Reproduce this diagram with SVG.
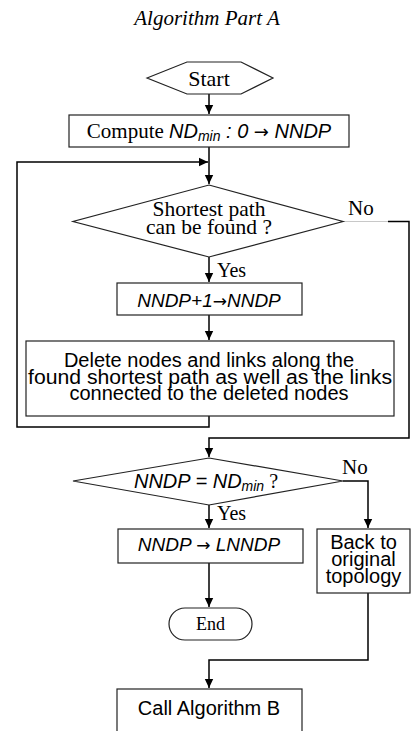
<svg xmlns="http://www.w3.org/2000/svg" width="411" height="731" viewBox="0 0 411 731">
<defs>
<marker id="ah" markerWidth="10" markerHeight="10" refX="9" refY="5" orient="auto" markerUnits="userSpaceOnUse">
<path d="M0,0.8 L9,5 L0,9.2 Z" fill="#000"/>
</marker>
<style>
.shape{fill:#fff;stroke:#222;stroke-width:1.2}
.conn{fill:none;stroke:#000;stroke-width:1.5}
.serif{font-family:"Liberation Serif","Times New Roman",serif;fill:#000}
.sans{font-family:"Liberation Sans",Arial,sans-serif;fill:#000}
.arr{font-family:"DejaVu Sans",sans-serif;font-style:normal}
.it{font-style:italic}
.mid{text-anchor:middle}
</style>
</defs>
<rect width="411" height="731" fill="#fff"/>
<text class="serif it mid" x="207" y="25" font-size="21">Algorithm Part A</text>

<g id="connectors">
<path class="conn" d="M209,94 V114" marker-end="url(#ah)"/>
<path class="conn" d="M209,147 V184" marker-end="url(#ah)"/>
<path class="conn" d="M209,416 V427 H17 V162 H208" marker-end="url(#ah)"/>
<path class="conn" d="M209,257 V282" marker-end="url(#ah)"/>
<path class="conn" d="M209,315 V340" marker-end="url(#ah)"/>
<path d="M343,221.5 H388" fill="none" stroke="#c8c8c8" stroke-width="1.2"/>
<path class="conn" d="M388,221.5 H409 V438 H209 V457" marker-end="url(#ah)"/>
<path class="conn" d="M209,505 V528" marker-end="url(#ah)"/>
<path class="conn" d="M343,481 H368 V528" marker-end="url(#ah)"/>
<path class="conn" d="M209,563 V607" marker-end="url(#ah)"/>
<path class="conn" d="M368,593 V660 H209 V688" marker-end="url(#ah)"/>
<text class="serif" x="348" y="215" font-size="21">No</text>
<text class="serif" x="217" y="277" font-size="20">Yes</text>
<text class="serif" x="342" y="474" font-size="21">No</text>
<text class="serif" x="217" y="520" font-size="20">Yes</text>
</g>

<g id="start">
<polygon class="shape" points="147,78 187,62 241,62 273,78 241,94 187,94"/>
<text class="serif mid" x="209" y="86" font-size="22">Start</text>
</g>

<g id="compute">
<rect class="shape" x="69" y="115" width="280" height="32"/>
<text class="mid" x="209" y="138" font-size="21"><tspan class="serif">Compute </tspan><tspan class="sans it" font-size="20">ND</tspan><tspan class="sans it" font-size="14" dy="3">min</tspan><tspan class="sans it" font-size="20" dy="-3"> : 0 </tspan><tspan class="sans arr" font-size="18">→</tspan><tspan class="sans it" font-size="20"> NNDP</tspan></text>
</g>

<g id="decision1">
<polygon class="shape" points="209,185 343,221.5 209,257 73,221.5"/>
<text class="serif mid" x="209" y="216" font-size="21.5">Shortest path</text>
<text class="serif mid" x="209" y="234" font-size="21.5">can be found ?</text>
</g>

<g id="increment">
<rect class="shape" x="117" y="283" width="185" height="32"/>
<text class="sans it mid" x="209" y="307" font-size="19">NNDP+1<tspan class="arr" font-size="17">→</tspan>NNDP</text>
</g>

<g id="delete">
<rect class="shape" x="26" y="341" width="368" height="75"/>
<text class="sans mid" x="209" y="367" font-size="20">Delete nodes and links along the</text>
<text class="sans mid" x="210" y="384" font-size="20" textLength="364" lengthAdjust="spacingAndGlyphs">found shortest path as well as the links</text>
<text class="sans mid" x="209" y="400" font-size="20">connected to the deleted nodes</text>
</g>

<g id="decision2">
<polygon class="shape" points="209,458 343,481 209,505 73,481"/>
<text class="mid" x="206" y="488" font-size="20"><tspan class="sans it">NNDP = ND</tspan><tspan class="sans it" font-size="14" dy="3">min</tspan><tspan class="serif" dy="-3"> ?</tspan></text>
</g>

<g id="lnndp">
<rect class="shape" x="118" y="529" width="185" height="34"/>
<text class="sans it mid" x="209" y="551" font-size="19">NNDP <tspan class="arr" font-size="17">→</tspan> LNNDP</text>
</g>

<g id="back">
<rect class="shape" x="317" y="529" width="93" height="64"/>
<text class="sans mid" x="363.5" y="549" font-size="20">Back to</text>
<text class="sans mid" x="363.5" y="566" font-size="20">original</text>
<text class="sans mid" x="363.5" y="583" font-size="20">topology</text>
</g>

<g id="end">
<rect class="shape" x="169" y="608" width="83" height="32" rx="16" ry="16"/>
<text class="serif mid" x="210.5" y="630" font-size="18">End</text>
</g>

<g id="callB">
<rect class="shape" x="117" y="689" width="185" height="50"/>
<text class="sans mid" x="209" y="715" font-size="20">Call Algorithm B</text>
</g>
</svg>
